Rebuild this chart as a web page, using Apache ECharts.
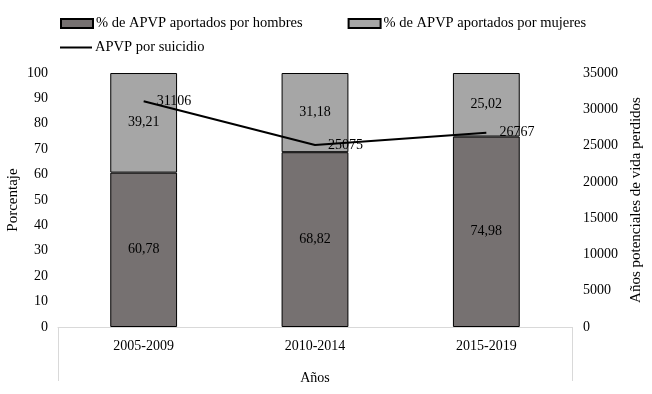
<!DOCTYPE html>
<html>
<head>
<meta charset="utf-8">
<script src="https://cdn.jsdelivr.net/npm/echarts@6/dist/echarts.min.js"></script>
<style>
html, body { margin: 0; padding: 0; background: #fff; }
#chart { width: 652px; height: 394px; }
</style>
</head>
<body>
<div id="chart"></div>
<script>
// datos del grafico
var periodos = ['2005-2009', '2010-2014', '2015-2019'];
var hombres = [60.78, 68.82, 74.98];
var mujeres = [39.21, 31.18, 25.02];
var apvp = [31106, 25075, 26767];
var ticksPct = [0, 100, 10];
var ticksApvp = [0, 35000, 5000];

var fuente = 'Liberation Serif';

function coma(p) {
	return p.value.toFixed(2).replace('.', ',');
}

var myChart = echarts.init(document.getElementById('chart'));
var option = {
	backgroundColor: '#fff',
	animation: false,
	textStyle: { fontFamily: fuente, color: '#000' },
	legend: [{
		left: 55, top: 11, itemWidth: 32, itemHeight: 9, itemGap: 45,
		icon: 'rect',
		textStyle: { fontFamily: fuente, fontSize: 14.5, color: '#000', padding: [0, 0, 0, -2] },
		data: ['% de APVP aportados por hombres', '% de APVP aportados por mujeres']
	}, {
		left: 55, top: 35, itemWidth: 32, itemHeight: 2,
		textStyle: { fontFamily: fuente, fontSize: 14.5, color: '#000', padding: [0, 0, 0, -2] },
		data: [{ name: 'APVP por suicidio', icon: 'rect' }]
	}],
	grid: { left: 58, right: 80, top: 73, bottom: 67, outerBoundsMode: 'none' },
	xAxis: {
		type: 'category',
		data: periodos,
		name: 'Años',
		nameLocation: 'middle',
		nameGap: 44,
		nameMoveOverlap: false,
		nameTextStyle: { fontFamily: fuente, fontSize: 14, color: '#000' },
		axisLine: { lineStyle: { color: '#d9d9d9' } },
		axisTick: { show: false },
		axisLabel: { fontFamily: fuente, fontSize: 14, color: '#000', margin: 12 }
	},
	yAxis: [{
		type: 'value',
		min: ticksPct[0], max: ticksPct[1], interval: ticksPct[2],
		name: 'Porcentaje',
		nameLocation: 'middle',
		nameRotate: 90,
		nameGap: 37,
		nameMoveOverlap: false,
		nameTextStyle: { fontFamily: fuente, fontSize: 15, color: '#000' },
		axisLine: { show: false },
		axisTick: { show: false },
		splitLine: { show: false },
		axisLabel: { fontFamily: fuente, fontSize: 14, color: '#000', margin: 10 }
	}, {
		type: 'value',
		position: 'right',
		min: ticksApvp[0], max: ticksApvp[1], interval: ticksApvp[2],
		name: 'Años potenciales de vida perdidos',
		nameLocation: 'middle',
		nameRotate: 90,
		nameGap: 56,
		nameTextStyle: { fontFamily: fuente, fontSize: 15, color: '#000' },
		axisLine: { show: false },
		axisTick: { show: false },
		splitLine: { show: false },
		axisLabel: { fontFamily: fuente, fontSize: 14, color: '#000', margin: 11, formatter: function (v) { return String(v); } }
	}],
	graphic: [
		// marco del eje de categorias (estilo Excel)
		{ type: 'line', shape: { x1: 58.5, y1: 327, x2: 58.5, y2: 381 }, style: { stroke: '#d9d9d9', lineWidth: 1 } },
		{ type: 'line', shape: { x1: 572.5, y1: 327, x2: 572.5, y2: 381 }, style: { stroke: '#d9d9d9', lineWidth: 1 } }
	],
	series: [{
		name: '% de APVP aportados por hombres',
		type: 'bar',
		stack: 'pct',
		barWidth: '39%',
		data: hombres,
		itemStyle: { color: '#767171', borderColor: '#000', borderWidth: 1 },
		label: { show: true, position: 'inside', formatter: coma, fontFamily: fuente, fontSize: 14, color: '#000' }
	}, {
		name: '% de APVP aportados por mujeres',
		type: 'bar',
		stack: 'pct',
		barWidth: '39%',
		data: mujeres,
		itemStyle: { color: '#a6a6a6', borderColor: '#000', borderWidth: 1 },
		label: { show: true, position: 'inside', formatter: coma, fontFamily: fuente, fontSize: 14, color: '#000' }
	}, {
		name: 'APVP por suicidio',
		type: 'line',
		yAxisIndex: 1,
		data: apvp,
		symbol: 'circle',
		symbolSize: 0.1,
		lineStyle: { color: '#000', width: 2 },
		itemStyle: { color: '#000' },
		label: { show: true, position: 'right', distance: 13, fontFamily: fuente, fontSize: 14, color: '#000' }
	}]
};
myChart.setOption(option);
</script>
</body>
</html>
